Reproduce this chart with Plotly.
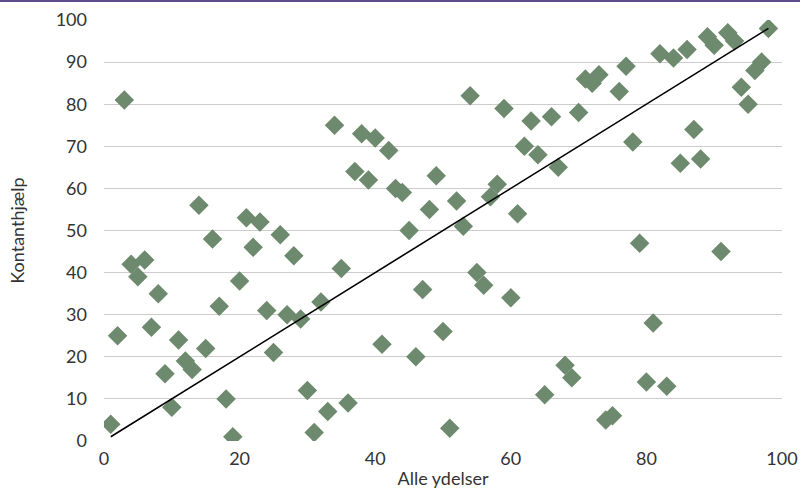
import plotly.graph_objects as go

alle_ydelser = list(range(1, 99))
kontanthjaelp = [4, 25, 81, 42, 39, 43, 27, 35, 16, 8,
                 24, 19, 17, 56, 22, 48, 32, 10, 1, 38,
                 53, 46, 52, 31, 21, 49, 30, 44, 29, 12,
                 2, 33, 7, 75, 41, 9, 64, 73, 62, 72,
                 23, 69, 60, 59, 50, 20, 36, 55, 63, 26,
                 3, 57, 51, 82, 40, 37, 58, 61, 79, 34,
                 54, 70, 76, 68, 11, 77, 65, 18, 15, 78,
                 86, 85, 87, 5, 6, 83, 89, 71, 47, 14,
                 28, 92, 13, 91, 66, 93, 74, 67, 96, 94,
                 45, 97, 95, 84, 80, 88, 90, 98]
trend_x = [1, 98]
trend_y = [1, 98]

x_ticks = [0, 20, 40, 60, 80, 100]
y_ticks = [0, 10, 20, 30, 40, 50, 60, 70, 80, 90, 100]

font_family = "Lato, Noto Sans, sans-serif"
text_color = "#333333"

fig = go.Figure()
fig.add_trace(go.Scatter(
    x=alle_ydelser, y=kontanthjaelp, mode="markers",
    marker=dict(symbol="diamond", size=15, color="#6e8a6e",
                line=dict(width=0)),
    showlegend=False, hoverinfo="x+y"))
fig.add_trace(go.Scatter(
    x=trend_x, y=trend_y, mode="lines",
    line=dict(color="#000000", width=1.6),
    showlegend=False, hoverinfo="skip"))

fig.update_layout(
    width=800, height=502,
    margin=dict(l=104, r=18, t=20, b=61, autoexpand=False),
    paper_bgcolor="white", plot_bgcolor="white",
    font=dict(family=font_family, size=18, color=text_color),
    xaxis=dict(range=[0, 100], tickvals=x_ticks, showgrid=False,
               zeroline=False, showline=False, ticks="",
               ticklabelstandoff=5, automargin=False,
               ticklabeloverflow="allow",
               title=dict(text="Alle ydelser", standoff=4,
                          font=dict(size=18, color=text_color))),
    yaxis=dict(range=[0, 100], tickvals=y_ticks, showgrid=True,
               gridcolor="#cccccc", gridwidth=1.3, zeroline=False,
               showline=False, ticks="", ticklabelstandoff=16,
               automargin=False, ticklabeloverflow="allow",
               title=dict(text="Kontanthjælp", standoff=26,
                          font=dict(size=18, color=text_color))),
    shapes=[dict(type="rect", xref="paper", yref="paper",
                 x0=-1, x1=2, y0=1 + 18 / 421, y1=1 + 30 / 421,
                 fillcolor="#5e4b8b", line=dict(width=0), layer="above")],
)

post = (
    "document.body.style.margin='0px';"
    "var gd=document.getElementById('{plot_id}');"
    "Plotly.relayout(gd, {'xaxis.ticklabeloverflow': 'allow'});"
)

fig.write_html("out.html",
               config={"displayModeBar": False},
               post_script=post)
